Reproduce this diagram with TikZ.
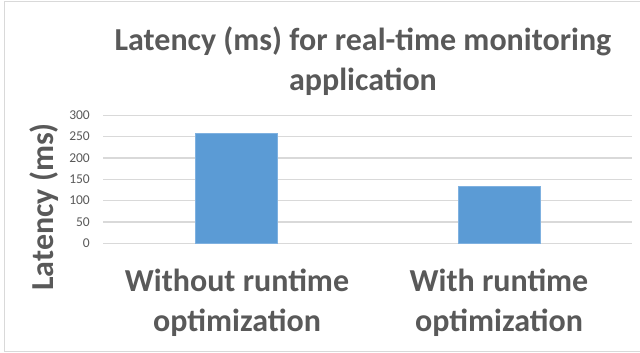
\documentclass[tikz,border=0pt]{standalone}
\usepackage{fontspec}
\setmainfont{Carlito}
\definecolor{txt}{HTML}{595959}
\definecolor{grid}{HTML}{D9D9D9}
\definecolor{bar}{HTML}{5B9BD5}
\definecolor{barline}{HTML}{7FB1E0}
\begin{document}
\begin{tikzpicture}[x=1pt,y=-1pt,
  big/.style={font=\fontsize{32}{40}\selectfont\bfseries, text=txt, inner sep=0pt, align=center},
  tick/.style={font=\fontsize{13.5}{15}\selectfont, text=txt, anchor=east, inner sep=0pt},
  gridline/.style={draw=grid, line width=1.2pt},
  barbox/.style={fill=bar, draw=barline, line width=0.6pt}]
\useasboundingbox (0,0) rectangle (640,353);
\draw[draw=grid, line width=1pt] (645,2) -- (4.5,2) -- (4.5,351.5) -- (645,351.5);
% gridlines and ticks
\foreach \v in {0,50,...,300}{
  \draw[gridline] (103,{243.3-0.4267*\v}) -- (632,{243.3-0.4267*\v});
  \node[tick] (t\v) at (90,{243.3-0.4267*\v}) {\v};
}
% bars
\draw[barbox] (195,243.3) rectangle (277,{243.3-0.4267*258});
\draw[barbox] (458,243.3) rectangle (540.5,{243.3-0.4267*133});
% title
\node[big] (title) at (363,61) {Latency (ms) for real-time monitoring\\application};
% axis title
\node[big, rotate=90] (ytitle) at (44,207) {Latency (ms)};
% categories
\node[big] (c1) at (237,303) {Without runtime\\optimization};
\node[big] (c2) at (499,303) {With runtime\\optimization};
\end{tikzpicture}
\end{document}
